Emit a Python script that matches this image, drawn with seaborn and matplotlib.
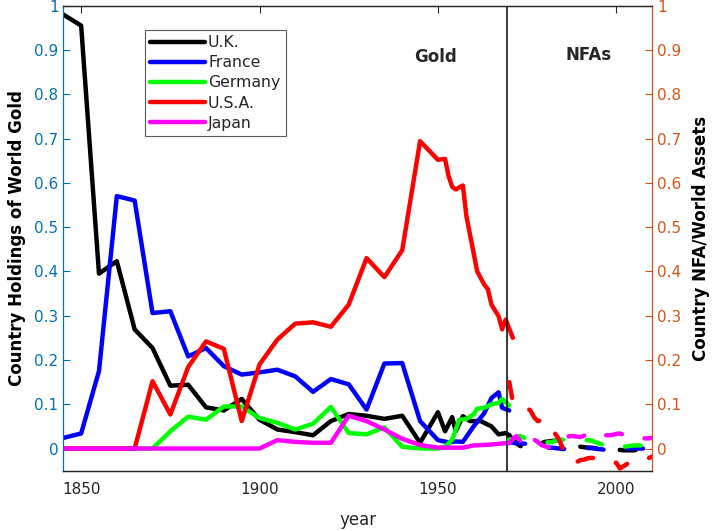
import matplotlib
matplotlib.use("Agg")
import matplotlib.pyplot as plt
import pandas as pd
import seaborn as sns

# ---- data -----------------------------------------------------------------
countries = ["U.K.", "France", "Germany", "U.S.A.", "Japan"]
colors = ["#000000", "#0000FF", "#00FF00", "#FF0000", "#FF00FF"]

# share of world gold held by each country
uk_gold_years = [1845, 1850, 1855, 1860, 1865, 1870, 1875, 1880, 1885, 1890,
                 1895, 1900, 1905, 1910, 1915, 1920, 1925, 1930, 1935, 1940,
                 1945, 1950, 1952, 1954, 1955, 1957, 1959, 1962, 1965, 1967,
                 1969, 1970]
uk_gold = [0.980, 0.955, 0.395, 0.423, 0.269, 0.227, 0.142, 0.144, 0.093, 0.086,
           0.112, 0.065, 0.043, 0.037, 0.030, 0.062, 0.078, 0.074, 0.067, 0.074,
           0.013, 0.082, 0.039, 0.071, 0.039, 0.073, 0.062, 0.062, 0.050, 0.032,
           0.035, 0.030]

fr_gold_years = [1845, 1850, 1855, 1860, 1865, 1870, 1875, 1880, 1885, 1890,
                 1895, 1900, 1905, 1910, 1915, 1920, 1925, 1930, 1935, 1940,
                 1945, 1950, 1953, 1955, 1957, 1960, 1963, 1965, 1967, 1968,
                 1970]
fr_gold = [0.024, 0.034, 0.175, 0.570, 0.560, 0.306, 0.310, 0.208, 0.227, 0.186,
           0.167, 0.172, 0.178, 0.163, 0.128, 0.157, 0.145, 0.088, 0.192, 0.193,
           0.062, 0.019, 0.014, 0.016, 0.015, 0.050, 0.080, 0.114, 0.127, 0.092,
           0.086]

de_gold_years = [1845, 1850, 1855, 1860, 1865, 1870, 1875, 1880, 1885, 1890,
                 1895, 1900, 1905, 1910, 1915, 1920, 1925, 1930, 1935, 1940,
                 1945, 1950, 1952, 1954, 1956, 1958, 1960, 1961, 1963, 1965,
                 1967, 1968, 1970]
de_gold = [0.0, 0.0, 0.0, 0.0, 0.0, 0.0, 0.039, 0.072, 0.065, 0.095,
           0.095, 0.069, 0.058, 0.043, 0.056, 0.094, 0.035, 0.032, 0.048, 0.004,
           0.0, 0.0, 0.004, 0.020, 0.065, 0.067, 0.077, 0.090, 0.092, 0.100,
           0.103, 0.112, 0.097]

us_gold_years = [1845, 1850, 1855, 1860, 1865, 1870, 1875, 1880, 1885, 1890,
                 1895, 1900, 1905, 1910, 1915, 1920, 1925, 1930, 1935, 1940,
                 1945, 1950, 1952, 1953, 1954, 1955, 1957, 1958, 1960, 1961,
                 1963, 1964, 1965, 1967, 1968, 1969, 1971]
us_gold = [0.0, 0.0, 0.0, 0.0, 0.0, 0.152, 0.077, 0.184, 0.242, 0.225,
           0.062, 0.190, 0.246, 0.282, 0.285, 0.275, 0.325, 0.430, 0.387, 0.448,
           0.694, 0.652, 0.654, 0.615, 0.591, 0.585, 0.594, 0.524, 0.442, 0.400,
           0.370, 0.360, 0.325, 0.299, 0.269, 0.291, 0.250]

jp_gold_years = [1845, 1850, 1855, 1860, 1865, 1870, 1875, 1880, 1885, 1890,
                 1895, 1900, 1905, 1910, 1915, 1920, 1925, 1930, 1935, 1940,
                 1945, 1950, 1957, 1960, 1965, 1970]
jp_gold = [0.0, 0.0, 0.0, 0.0, 0.0, 0.0, 0.0, 0.0, 0.0, 0.0,
           0.0, 0.0, 0.019, 0.015, 0.013, 0.013, 0.074, 0.062, 0.043, 0.022,
           0.008, 0.002, 0.002, 0.007, 0.009, 0.013]

# net foreign assets as a share of world assets, 1970-2010
nfa_years = list(range(1970, 2011))
uk_nfa = [0.030, 0.020, 0.012, 0.006, 0.003, 0.001, 0.000, 0.004, 0.008, 0.012,
          0.015, 0.016, 0.017, 0.018, 0.019, 0.020, 0.020, 0.016, 0.011, 0.007,
          0.004, 0.003, 0.002, 0.002, 0.001, 0.000, 0.000, -0.001, -0.001, -0.002,
          -0.003, -0.003, -0.004, -0.004, -0.004, -0.004, -0.003, -0.003, -0.003, -0.003,
          -0.002]
fr_nfa = [0.015, 0.013, 0.012, 0.012, 0.011, 0.011, 0.010, 0.008, 0.006, 0.004,
          0.003, 0.002, 0.002, 0.001, 0.000, -0.001, -0.001, -0.002, -0.001, 0.000,
          0.001, 0.001, 0.001, 0.001, 0.000, -0.001, -0.002, -0.003, -0.004, -0.003,
          -0.002, -0.001, 0.000, 0.000, 0.000, 0.000, 0.000, 0.000, 0.000, 0.000,
          0.000]
de_nfa = [0.020, 0.022, 0.025, 0.028, 0.025, 0.022, 0.020, 0.019, 0.018, 0.016,
          0.015, 0.014, 0.015, 0.017, 0.019, 0.020, 0.021, 0.022, 0.022, 0.021,
          0.020, 0.019, 0.019, 0.018, 0.015, 0.012, 0.009, 0.006, 0.003, 0.002,
          0.002, 0.003, 0.004, 0.005, 0.006, 0.007, 0.007, 0.007, 0.008, 0.008,
          0.008]
us_nfa = [0.150, 0.105, 0.098, 0.092, 0.090, 0.092, 0.085, 0.070, 0.062, 0.064,
          0.066, 0.055, 0.045, 0.032, 0.020, 0.000, -0.020, -0.028, -0.032, -0.030,
          -0.026, -0.025, -0.022, -0.021, -0.022, -0.024, -0.026, -0.029, -0.032, -0.033,
          -0.032, -0.045, -0.040, -0.035, -0.030, -0.025, -0.021, -0.020, -0.020, -0.022,
          -0.018]
jp_nfa = [0.012, 0.022, 0.028, 0.018, 0.002, 0.000, 0.010, 0.020, 0.015, 0.008,
          0.005, 0.003, 0.002, 0.005, 0.012, 0.020, 0.026, 0.028, 0.028, 0.027,
          0.026, 0.029, 0.034, 0.038, 0.036, 0.032, 0.030, 0.030, 0.030, 0.031,
          0.033, 0.034, 0.031, 0.027, 0.023, 0.022, 0.022, 0.023, 0.023, 0.023,
          0.024]

gold_years = [uk_gold_years, fr_gold_years, de_gold_years, us_gold_years, jp_gold_years]
gold_vals = [uk_gold, fr_gold, de_gold, us_gold, jp_gold]
nfa_vals = [uk_nfa, fr_nfa, de_nfa, us_nfa, jp_nfa]

# ---- style ----------------------------------------------------------------
sns.set_style("white")
plt.rcParams["font.family"] = ["DejaVu Sans"]
plt.rcParams["lines.scale_dashes"] = False

LEFT_C = "#0072BD"
RIGHT_C = "#D95319"
AX_GRAY = "#262626"

fig = plt.figure(figsize=(7.17, 5.31), dpi=100)
ax = fig.add_axes([0.0883, 0.1136, 0.8210, 0.8757])
ax2 = ax.twinx()

handles = []
for name, c, yrs, vals in zip(countries, colors, gold_years, gold_vals):
    df = pd.DataFrame({"year": yrs, "share": vals})
    sns.lineplot(data=df, x="year", y="share", ax=ax, color=c, lw=3.2,
                 estimator=None, sort=False, legend=False)
    handles.append(ax.lines[-1])

for name, c, vals in zip(countries, colors, nfa_vals):
    df = pd.DataFrame({"year": nfa_years, "nfa": vals})
    sns.lineplot(data=df, x="year", y="nfa", ax=ax2, color=c, lw=3.2,
                 estimator=None, sort=False, legend=False,
                 linestyle=(0, (11.5, 17)), dash_capstyle="round")

ax.axvline(1969.5, color="black", lw=1.1, zorder=5)

ticks = [0, 0.1, 0.2, 0.3, 0.4, 0.5, 0.6, 0.7, 0.8, 0.9, 1]
tick_labels = ["0", "0.1", "0.2", "0.3", "0.4", "0.5", "0.6", "0.7", "0.8", "0.9", "1"]
for a in (ax, ax2):
    a.set_xlim(1845, 2010)
    a.set_ylim(-0.05, 1.0)
    a.set_yticks(ticks)
    a.set_yticklabels(tick_labels)
ax.set_xticks([1850, 1900, 1950, 2000])
ax.set_xticklabels(["1850", "1900", "1950", "2000"])

ax.tick_params(axis="x", direction="in", length=5, width=0.8, colors=AX_GRAY,
               labelsize=11, top=True, pad=8)
ax.tick_params(axis="y", direction="in", length=5, width=0.8, colors=LEFT_C,
               labelsize=11, right=False)
ax2.tick_params(axis="y", direction="in", length=5, width=0.8, colors=RIGHT_C,
                labelsize=11, left=False)

for a in (ax, ax2):
    for s in a.spines.values():
        s.set_linewidth(0.9)
    a.spines["top"].set_color(AX_GRAY)
    a.spines["bottom"].set_color(AX_GRAY)
ax.spines["left"].set_color(LEFT_C)
ax.spines["right"].set_visible(False)
ax2.spines["left"].set_visible(False)
ax2.spines["right"].set_color(RIGHT_C)

ax.set_xlabel("year", fontsize=12, color=AX_GRAY, labelpad=10)
ax.set_ylabel("Country Holdings of World Gold", fontsize=12, fontweight="bold",
              color="black", labelpad=6)
ax2.set_ylabel("Country NFA/World Assets", fontsize=12, fontweight="bold",
               color="black", labelpad=8)

ax.text(1949.4, 0.883, "Gold", fontsize=12, fontweight="bold", ha="center", va="center")
ax.text(1992.1, 0.889, "NFAs", fontsize=12, fontweight="bold", ha="center", va="center")

leg = ax.legend(handles, countries, loc="upper left", bbox_to_anchor=(0.1388, 0.9477),
                borderaxespad=0, fontsize=11.3, frameon=True, fancybox=False,
                edgecolor="0.35", framealpha=1, handlelength=3.5, handletextpad=0.2,
                labelspacing=0.33, borderpad=0.32)
leg.get_frame().set_linewidth(0.8)

fig.savefig("out.png", dpi=100)
